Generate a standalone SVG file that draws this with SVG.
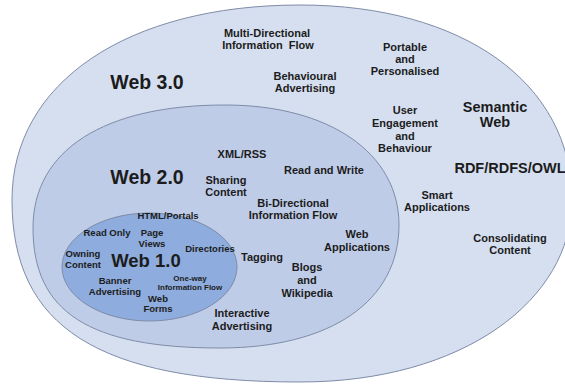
<svg xmlns="http://www.w3.org/2000/svg" width="565" height="385" viewBox="0 0 565 385">
<style>
text{font-family:"Liberation Sans",Arial,sans-serif;font-weight:bold;fill:#1c1c1c;text-anchor:middle}
.lbl{font-size:11px}
.sm{font-size:9.5px}
.xs{font-size:8px}
.big{font-size:19.5px}
.big1{font-size:18.5px}
.mid{font-size:14.5px}
.ring{stroke:#7f8ca8;stroke-width:1}
</style>
<rect width="565" height="385" fill="#ffffff"/>
<g id="web3">
<path class="ring" fill="#d5dff0" d="M12,200 C12,83 127,5 300,5 C463,5 572,83 572,200 C572,300 463,382 300,382 C98,382 12,327 12,200 Z"/>
<text class="big" x="147" y="89">Web 3.0</text>
<text class="lbl"><tspan x="267" y="37">Multi-Directional</tspan><tspan x="268" y="49">Information&#160; Flow</tspan></text>
<text class="lbl"><tspan x="405" y="51">Portable</tspan><tspan x="405" y="63">and</tspan><tspan x="405" y="75">Personalised</tspan></text>
<text class="lbl"><tspan x="305" y="80">Behavioural</tspan><tspan x="305" y="92">Advertising</tspan></text>
<text class="lbl"><tspan x="405" y="114">User</tspan><tspan x="405" y="127">Engagement</tspan><tspan x="405" y="140">and</tspan><tspan x="405" y="152">Behaviour</tspan></text>
<text class="mid"><tspan x="495" y="112">Semantic</tspan><tspan x="495" y="127">Web</tspan></text>
<text class="mid" x="510" y="173">RDF/RDFS/OWL</text>
<text class="lbl"><tspan x="437" y="199">Smart</tspan><tspan x="437" y="211">Applications</tspan></text>
<text class="lbl"><tspan x="510" y="242">Consolidating</tspan><tspan x="510" y="254">Content</tspan></text>
</g>
<g id="web2">
<path class="ring" fill="#bfcce8" d="M33,228 C33,150 104,105 225,105 C329,105 399,153 399,225 C399,301 331,348 220,348 C89,348 33,312 33,228 Z"/>
<text class="big" x="147" y="184">Web 2.0</text>
<text class="lbl" x="242" y="158">XML/RSS</text>
<text class="lbl" x="324" y="174">Read and Write</text>
<text class="lbl"><tspan x="226" y="184">Sharing</tspan><tspan x="226" y="196">Content</tspan></text>
<text class="lbl"><tspan x="293" y="207">Bi-Directional</tspan><tspan x="293" y="219">Information Flow</tspan></text>
<text class="lbl"><tspan x="357" y="238">Web</tspan><tspan x="357" y="251">Applications</tspan></text>
<text class="lbl" x="262" y="261">Tagging</text>
<text class="lbl"><tspan x="307" y="271">Blogs</tspan><tspan x="307" y="284">and</tspan><tspan x="307" y="297">Wikipedia</tspan></text>
<text class="lbl"><tspan x="242" y="317">Interactive</tspan><tspan x="242" y="330">Advertising</tspan></text>
</g>
<g id="web1">
<ellipse class="ring" fill="#8eacdd" cx="149.5" cy="267" rx="87.5" ry="54"/>
<text class="big1" x="146" y="267">Web 1.0</text>
<text class="sm" x="168" y="219">HTML/Portals</text>
<text class="sm" x="107" y="236">Read Only</text>
<text class="sm"><tspan x="152" y="236">Page</tspan><tspan x="152" y="247">Views</tspan></text>
<text class="sm" x="210" y="252">Directories</text>
<text class="sm"><tspan x="83" y="257">Owning</tspan><tspan x="83" y="268">Content</tspan></text>
<text class="sm"><tspan x="115" y="284">Banner</tspan><tspan x="115" y="295">Advertising</tspan></text>
<text class="xs"><tspan x="190" y="281">One-way</tspan><tspan x="190" y="290">Information Flow</tspan></text>
<text class="sm"><tspan x="158" y="302">Web</tspan><tspan x="158" y="312">Forms</tspan></text>
</g>
<g id="connectors"/>
</svg>
